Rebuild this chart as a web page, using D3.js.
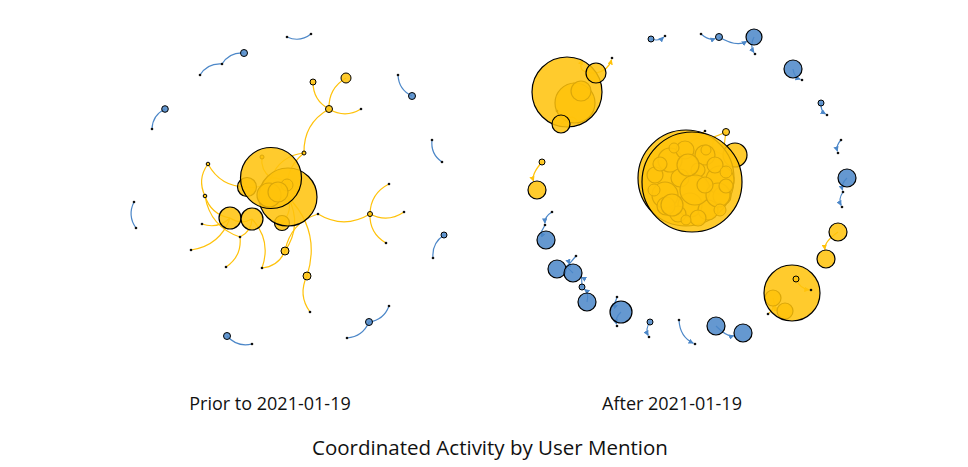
<!DOCTYPE html>
<html>
<head>
<meta charset="utf-8">
<script src="https://cdn.jsdelivr.net/npm/d3@7"></script>
<style>
  body { margin: 0; background: #fff; }
  text { font-family: "Open Sans", "Noto Sans", sans-serif; fill: #111; }
</style>
</head>
<body>
<div id="chart"></div>
<script>
// node = [id, x, y, size, group]  (layout units, relative to panel centre)
// group: "y" = yellow community, "b" = blue community, "d" = mention-only account
var priorNodes = [
    ["b1", -41, -142, 3.5, "b"], ["b1a", -63, -131, 0, "d"], ["b1b", -85, -120, 0, "d"],
    ["b2a", 2, -158, 0, "d"], ["b2b", 26, -161, 0, "d"],
    ["b3", -120, -86, 3.3, "b"], ["b3a", -133, -66, 0, "d"],
    ["b4", 127, -99, 3.5, "b"], ["b4a", 113, -120, 0, "d"],
    ["b5a", -151, 7, 0, "d"], ["b5b", -149, 33, 0, "d"],
    ["b6", 159, 40, 3, "b"], ["b6a", 148, 63, 0, "d"],
    ["b7", 84, 127, 3.5, "b"], ["b7a", 104, 111, 0, "d"], ["b7b", 62, 143, 0, "d"],
    ["b8", -58, 141, 3.5, "b"], ["b8a", -33, 149, 0, "d"],
    ["y1", 28, -113, 3, "y"], ["y2", 61, -117, 5, "y"], ["y3", 44, -86, 3.5, "y"], ["y3a", 76, -86, 0, "d"],
    ["y4", 19, -42, 2, "y"],
    ["ya", 147, -55, 0, "d"], ["yb", 157, -33, 0, "d"], ["yc", 104, -11, 0, "d"],
    ["y5", 85, 19, 2.5, "y"], ["y5a", 119, 17, 0, "d"], ["y5b", 101, 48, 0, "d"], ["yd", 33, 19, 0, "d"],
    ["y6", -77, -31, 1.8, "y"], ["y7", -80, 1, 1.8, "y"], ["ye", -83, 29, 0, "d"], ["yf", -45, 42, 0, "d"],
    ["y8", 0, 56, 4, "y"], ["y9", 22, 81, 4, "y"], ["yg", 25, 117, 0, "d"],
    ["yh", -94, 55, 0, "d"], ["yi", -59, 72, 0, "d"], ["yj", -23, 73, 0, "d"],
    ["c4", -3, 28, 7.5, "y"], ["c1", -38, -8, 9.5, "y"],
    ["B2", 3, 2, 29, "y"],
    ["p1", -23, -38, 2, "y"], ["p2", -16, 0, 12, "y"], ["p3", 2, -10, 6, "y"], ["p4", -7, -3, 10, "y"],
    ["B1", -14, -17, 30.5, "y"],
    ["c2", -55, 23, 11, "y"], ["c3", -33, 24, 11, "y"]
];
var priorLinks = [
    ["b1", "b1a"], ["b1a", "b1b"], ["b2a", "b2b"], ["b3", "b3a"], ["b4a", "b4"], ["b5a", "b5b"],
    ["b6", "b6a"], ["b7b", "b7"], ["b7", "b7a"], ["b8", "b8a"],
    ["y1", "y3"], ["y2", "y3"], ["y3", "y3a"], ["y3", "y4"], ["y4", "B1"], ["y4", "B2"],
    ["ya", "yb"], ["yc", "y5"], ["y5", "y5a"], ["y5", "y5b"], ["yd", "y5"], ["yd", "y8"],
    ["y6", "c1"], ["y6", "y7"], ["y7", "c2"], ["y7", "yf"], ["ye", "c2"], ["yh", "c2"],
    ["yi", "yf"], ["yj", "c3"], ["yj", "y8"], ["y8", "B2"], ["y9", "B2"], ["y9", "yg"],
    ["yf", "c3"], ["c1", "B1"], ["c2", "c3"], ["c4", "B2"], ["p1", "B1"], ["p2", "p4"], ["p3", "B1"]
];

var afterNodes = [
    ["rb1", -39, -151, 3, "b"], ["rb1a", -25, -154, 0, "d"],
    ["rb2a", 11, -156, 0, "d"], ["rb2", 29, -153, 3.5, "b"], ["rb3", 64, -153, 8, "b"], ["rb3a", 65, -136, 0, "d"],
    ["rb4", 103, -121, 9, "b"], ["rb4a", 112, -110, 0, "d"],
    ["rb5", 131, -87, 3, "b"], ["rb5a", 137, -75, 0, "d"],
    ["rb6a", 151, -50, 0, "d"], ["rb6b", 148, -37, 0, "d"],
    ["rb7", 157, -12, 9, "b"], ["rb7a", 153, 2, 0, "d"], ["rb7b", 152, 17, 0, "d"],
    ["rb8", -144, 50, 9, "b"], ["rb8a", -138, 22, 0, "d"], ["rb8b", -145, 35, 0, "d"],
    ["rb9", -133, 79, 9, "b"], ["rb10", -117, 83, 9, "b"], ["rb10a", -114, 66, 0, "d"],
    ["rb11", -108, 97, 3, "b"], ["rb12", -103, 112, 9, "b"],
    ["rb13", -69, 122, 11, "b"], ["rb13a", -73, 107, 0, "d"], ["rb13b", -73, 136, 0, "d"],
    ["rb14", -40, 132, 3, "b"], ["rb14a", -41, 147, 0, "d"],
    ["rb15a", -11, 130, 0, "d"], ["rb15b", 5, 154, 0, "d"],
    ["rb16", 26, 136, 9, "b"], ["rb17", 53, 143, 9, "b"],
    ["ry1i1", -115, -87, 20, "y"], ["ry1i2", -109, -99, 10, "y"], ["ry1a", -133, -79, 0, "d"],
    ["ry1", -123, -98, 35, "y"], ["ry2", -94, -117, 10, "y"], ["ry2a", -78, -132, 0, "d"],
    ["ry3", -129, -66, 9, "y"],
    ["ry4", -148, -28, 3, "y"], ["ry5", -153, 0, 9, "y"],
    ["RB3", 45, -35, 12, "y"], ["ry6a", 15, -59, 0, "d"], ["RB2", -4, -12, 48, "y"],
    ["t1", -20, -30, 12, "y"], ["t2", 15, -35, 10, "y"], ["t3", 30, -10, 14, "y"], ["t4", -25, 5, 13, "y"],
    ["t5", 0, 15, 12, "y"], ["t6", 18, 20, 10, "y"], ["t7", -10, -12, 9, "y"], ["t8", -35, -15, 8, "y"],
    ["t9", 32, 6, 9, "y"], ["t10", -12, 24, 8, "y"], ["t11", 8, -20, 7, "y"], ["t12", -24, 16, 9, "y"],
    ["t13", 25, -25, 8, "y"], ["t14", 5, 0, 15, "y"], ["t15", -5, -40, 9, "y"], ["t16", 36, -18, 6, "y"],
    ["t17", -30, -26, 7, "y"], ["t18", 8, 28, 8, "y"], ["t19", -2, -25, 11, "y"], ["t20", 28, 5, 12, "y"],
    ["t21", -18, 15, 11, "y"], ["t22", 30, 20, 6, "y"], ["t23", -36, 0, 6, "y"], ["t24", 15, -5, 8, "y"],
    ["t25", -4, 30, 5, "y"], ["t26", 16, -40, 5, "y"], ["t27", -16, -42, 5, "y"], ["t28", 36, -4, 7, "y"],
    ["RB", 2, -8, 50, "y"], ["ry6", 36, -58, 3.5, "y"],
    ["ry7f1", 83, 108, 8, "y"], ["ry7f2", 95, 121, 8, "y"], ["ry7b", 78, 124, 0, "d"],
    ["ry7", 102, 103, 28, "y"], ["ry7i", 106, 89, 3, "y"], ["ry7a", 121, 100, 0, "d"],
    ["ry8", 148, 42, 9, "y"], ["ry9", 136, 69, 9, "y"]
];
var afterLinks = [
    ["rb1", "rb1a"], ["rb2a", "rb2"], ["rb2", "rb3"], ["rb3", "rb3a"], ["rb4", "rb4a"], ["rb5", "rb5a"],
    ["rb6a", "rb6b"], ["rb7", "rb7a"], ["rb7a", "rb7b"], ["rb8a", "rb8b"], ["rb8b", "rb8"],
    ["rb10a", "rb10"], ["rb10", "rb9"], ["rb11", "rb10"], ["rb12", "rb11"], ["rb13a", "rb13"],
    ["rb13", "rb13b"], ["rb14", "rb14a"], ["rb15a", "rb15b"], ["rb16", "rb17"],
    ["ry2", "ry2a"], ["ry2", "ry1"], ["ry3", "ry1"], ["ry1a", "ry1i1"], ["ry1i2", "ry1i1"], ["ry4", "ry5"],
    ["ry6", "RB3"], ["ry6a", "RB"], ["RB3", "RB"], ["ry6", "RB"],
    ["ry7i", "ry7a"], ["ry7b", "ry7f1"], ["ry7f1", "ry7f2"], ["ry8", "ry9"]
];

var panelTitles = ["Prior to 2021-01-19", "After 2021-01-19"];
var chartTitle = "Coordinated Activity by User Mention";

var width = 968, height = 467;
var colors = { y: "#FFC20A", b: "#4C87C8", d: "#111" };

var svg = d3.select("#chart").append("svg")
    .attr("width", width)
    .attr("height", height);

var defs = svg.append("defs");
["y", "b"].forEach(function (g) {
    defs.append("marker")
        .attr("id", "arrow-" + g)
        .attr("viewBox", "0 -5 10 10")
        .attr("refX", 9)
        .attr("markerWidth", 4.5)
        .attr("markerHeight", 4.5)
        .attr("orient", "auto")
        .append("path")
        .attr("d", "M0,-5L10,0L0,5Z")
        .style("fill", colors[g]);
});

// dot-to-dot links take the colour of the community they hang off
function groupOf(l, links, byId) {
    var ids = [l[0], l[1]];
    for (var i = 0; i < links.length; i++) {
        var o = links[i];
        if (ids.indexOf(o[0]) >= 0 || ids.indexOf(o[1]) >= 0) {
            var a = byId[o[0]].group, b = byId[o[1]].group;
            if (a !== "d") return a;
            if (b !== "d") return b;
        }
    }
    return "b";
}

function drawPanel(nodes, links, cx, cy, title, titleX, arrows) {
    var x = d3.scaleLinear().domain([-200, 200]).range([cx - 200, cx + 200]);
    var y = d3.scaleLinear().domain([-200, 200]).range([cy - 200, cy + 200]);
    var r = d3.scaleLinear().domain([0, 50]).range([0, 50]);

    var byId = {};
    var data = nodes.map(function (n) {
        var d = { id: n[0], x: x(n[1]), y: y(n[2]), r: n[3] > 0 ? r(n[3]) : 1.3, group: n[4] };
        byId[d.id] = d;
        return d;
    });

    function linkGroup(l) {
        var s = byId[l[0]], t = byId[l[1]];
        var grp = s.group !== "d" ? s.group : t.group;
        return grp === "d" ? groupOf(l, links, byId) : grp;
    }

    var g = svg.append("g");

    g.selectAll("path.link")
        .data(links)
        .enter().append("path")
        .attr("class", "link")
        .attr("d", function (l) {
            var s = byId[l[0]], t = byId[l[1]];
            var dx = t.x - s.x, dy = t.y - s.y;
            var mx = (s.x + t.x) / 2 - dy * 0.3;
            var my = (s.y + t.y) / 2 + dx * 0.3;
            var ex = t.x, ey = t.y;
            if (arrows) {
                var tx = t.x - mx, ty = t.y - my;
                var len = Math.sqrt(tx * tx + ty * ty) || 1;
                ex = t.x - tx / len * (t.r + 0.5);
                ey = t.y - ty / len * (t.r + 0.5);
            }
            var p = d3.path();
            p.moveTo(s.x, s.y);
            p.quadraticCurveTo(mx, my, ex, ey);
            return p.toString();
        })
        .style("fill", "none")
        .style("stroke", function (l) { return colors[linkGroup(l)]; })
        .style("stroke-width", 1.2)
        .attr("marker-end", function (l) {
            return arrows ? "url(#arrow-" + linkGroup(l) + ")" : null;
        });

    g.selectAll("circle.node")
        .data(data)
        .enter().append("circle")
        .attr("class", "node")
        .attr("cx", function (d) { return d.x; })
        .attr("cy", function (d) { return d.y; })
        .attr("r", function (d) { return d.r; })
        .style("fill", function (d) { return colors[d.group]; })
        .style("fill-opacity", function (d) { return d.group === "d" ? 1 : 0.86; })
        .style("stroke", "#000")
        .style("stroke-width", function (d) { return d.group === "d" ? 0 : (d.r > 6 ? 1.2 : 1); });

    svg.append("text")
        .attr("x", titleX)
        .attr("y", 410)
        .attr("text-anchor", "middle")
        .style("font-size", "18px")
        .text(title);
}

drawPanel(priorNodes, priorLinks, 285, 195, panelTitles[0], 270, false);
drawPanel(afterNodes, afterLinks, 690, 190, panelTitles[1], 672, true);

svg.append("text")
    .attr("x", 490)
    .attr("y", 455)
    .attr("text-anchor", "middle")
    .style("font-size", "20.5px")
    .text(chartTitle);
</script>
</body>
</html>
